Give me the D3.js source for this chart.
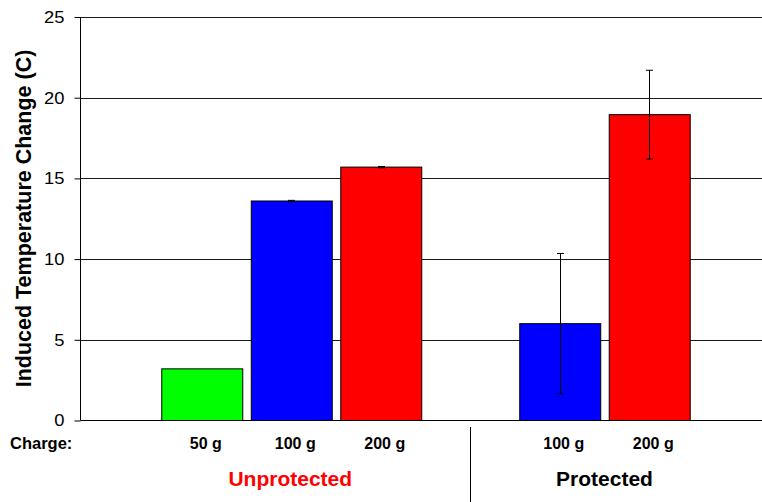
<!DOCTYPE html>
<html>
<head>
<meta charset="utf-8">
<script src="https://cdn.jsdelivr.net/npm/d3@7"></script>
<style>
  html, body { margin: 0; padding: 0; background: #fff; }
  svg { display: block; font-family: "Liberation Sans", Arial, sans-serif; }
</style>
</head>
<body>
<svg id="chart" width="762" height="502"></svg>
<script>
// ---- data ----
const barKeys   = ["u50", "u100", "u200", "gap", "p100", "p200"];
const chargeLabels = ["50 g", "100 g", "200 g", "", "100 g", "200 g"];
const values    = [3.2, 13.6, 15.7, null, 6.0, 18.95];
const errors    = [0, 0.04, 0.04, null, 4.35, 2.75];
const barColors = ["#00ff00", "#0000ff", "#ff0000", null, "#0000ff", "#ff0000"];
const groupNames  = ["Unprotected", "Protected"];
const groupColors = ["#ff0000", "#000000"];
const yTicks = [0, 5, 10, 15, 20, 25];

const svg = d3.select("#chart");
const plotLeft = 80.5, plotRight = 762, plotTop = 17, plotBottom = 420.5;

const x = d3.scaleBand().domain(barKeys).range([157.25, 693.75])
  .paddingInner(0.095).paddingOuter(0.045);
const y = d3.scaleLinear().domain([0, 25]).range([plotBottom, plotTop]);

// gridlines
svg.append("g").selectAll("line").data(yTicks.filter(t => t > 0)).join("line")
  .attr("x1", plotLeft).attr("x2", plotRight)
  .attr("y1", d => Math.round(y(d)) + 0.5).attr("y2", d => Math.round(y(d)) + 0.5)
  .attr("stroke", "#1a1a1a").attr("stroke-width", 1);

// y axis
const yAxis = d3.axisLeft(y).tickValues(yTicks).tickSize(6).tickPadding(10)
  .tickFormat(d3.format("d"));
const gy = svg.append("g").attr("transform", `translate(${plotLeft},0)`).call(yAxis);
gy.select(".domain").attr("stroke", "#000").attr("d", `M-0,${plotTop}V${plotBottom}`);
gy.selectAll(".tick line").attr("stroke", "#000");
gy.selectAll(".tick text").attr("font-size", 17).attr("fill", "#000")
  .attr("font-family", "Liberation Sans, Arial, sans-serif")
  .attr("transform", "scale(1.08,1)").attr("x", -16 / 1.08);

// baseline
svg.append("line").attr("x1", plotLeft).attr("x2", plotRight)
  .attr("y1", plotBottom).attr("y2", plotBottom).attr("stroke", "#000");

// bars
const data = barKeys.map((k, i) => ({ k, v: values[i], e: errors[i], c: barColors[i], lab: chargeLabels[i] }));
const bars = data.filter(d => d.v !== null);
svg.append("g").selectAll("rect").data(bars).join("rect")
  .attr("x", d => x(d.k) + 0.5)
  .attr("width", x.bandwidth())
  .attr("y", d => y(d.v))
  .attr("height", d => y(0) - y(d.v))
  .attr("fill", d => d.c)
  .attr("stroke", "#000").attr("stroke-width", 1);

// error bars
const eb = svg.append("g").selectAll("g").data(bars.filter(d => d.e > 0)).join("g")
  .attr("stroke", "#000").attr("stroke-width", 1);
eb.append("line")
  .attr("x1", d => Math.round(x(d.k) + x.bandwidth() / 2) + 0.5)
  .attr("x2", d => Math.round(x(d.k) + x.bandwidth() / 2) + 0.5)
  .attr("y1", d => y(d.v - d.e)).attr("y2", d => y(d.v + d.e));
[-1, 1].forEach(s => {
  eb.append("line")
    .attr("x1", d => Math.round(x(d.k) + x.bandwidth() / 2) + 0.5 - 3.5)
    .attr("x2", d => Math.round(x(d.k) + x.bandwidth() / 2) + 0.5 + 3.5)
    .attr("y1", d => y(d.v + s * d.e)).attr("y2", d => y(d.v + s * d.e));
});

// charge labels
svg.append("text").attr("x", 10).attr("y", 448.5)
  .attr("font-size", 16.5).attr("font-weight", "bold").text("Charge:");
svg.append("g").selectAll("text").data(data.filter(d => d.lab)).join("text")
  .attr("x", d => x(d.k) + x.bandwidth() / 2 + 4)
  .attr("y", 448.5).attr("text-anchor", "middle")
  .attr("font-size", 16).attr("font-weight", "bold").text(d => d.lab);

// group labels
const groupCenters = [
  (x("u50") + x("u200") + x.bandwidth()) / 2,
  (x("p100") + x("p200") + x.bandwidth()) / 2
];
svg.append("g").selectAll("text").data(groupNames).join("text")
  .attr("transform", (d, i) => `translate(${groupCenters[i] + [-1, 0][i]},485.5) scale(1.05,1)`)
  .attr("text-anchor", "middle")
  .attr("font-size", 20).attr("font-weight", "bold")
  .attr("fill", (d, i) => groupColors[i]).text(d => d);

// divider
const divX = Math.round(x("gap") + x.bandwidth() / 2) + 0.5;
svg.append("line").attr("x1", divX).attr("x2", divX)
  .attr("y1", 427).attr("y2", 502).attr("stroke", "#000");

// y title
svg.append("text")
  .attr("transform", `translate(31,218.5) rotate(-90)`)
  .attr("text-anchor", "middle")
  .attr("font-size", 21.5).attr("font-weight", "bold")
  .text("Induced Temperature Change (C)");
</script>
</body>
</html>
